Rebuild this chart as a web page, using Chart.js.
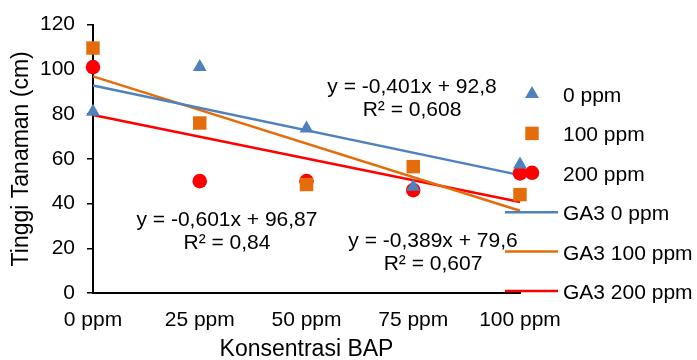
<!DOCTYPE html>
<html lang="id">
<head>
<meta charset="UTF-8">
<title>Tinggi Tanaman vs Konsentrasi BAP</title>
<script src="https://cdn.jsdelivr.net/npm/chart.js"></script>
<style>
  html, body { margin: 0; padding: 0; background: #fff; }
  canvas { display: block; }
</style>
</head>
<body>
<canvas id="growthChart" width="697" height="360"></canvas>
<script>
// data
const bapLevels   = [0, 25, 50, 75, 100];
const bapLabels   = ['0 ppm', '25 ppm', '50 ppm', '75 ppm', '100 ppm'];
const heightGA0   = [81, 101, 73.5, 47.5, 57.5];
const heightGA100 = [109.5, 76, 48.5, 56.5, 44];
const heightGA200 = [101, 50, 50, 46, 53.5];

// linear trendlines (Excel), endpoints at x = 0 and x = 100
const trendX      = [0, 100];
const trendGA0    = [92.8, 52.7];
const trendGA100  = [96.87, 36.77];
const trendGA200  = [79.6, 40.7];

const equations = [
    ['y = -0,401x + 92,8', 'R\u00b2 = 0,608'],
    ['y = -0,601x + 96,87', 'R\u00b2 = 0,84'],
    ['y = -0,389x + 79,6', 'R\u00b2 = 0,607']
];

const BLUE = '#4F81BD';
const ORANGE = '#E46C0A';
const RED = '#FF0000';
const FONT = '"Liberation Sans", Arial, sans-serif';

const toPoints = (xs, ys) => xs.map((x, i) => ({ x: x, y: ys[i] }));

function markerSet(label, ys, color, style, radius) {
    return {
        label: label,
        data: toPoints(bapLevels, ys),
        pointStyle: style,
        pointRadius: radius,
        backgroundColor: color,
        borderColor: color,
        borderWidth: 0,
        showLine: false,
        clip: false
    };
}

function trendSet(label, ys, color) {
    return {
        label: label,
        data: toPoints(trendX, ys),
        borderColor: color,
        backgroundColor: color,
        borderWidth: 2.5,
        pointRadius: 0,
        showLine: true,
        fill: false,
        clip: false
    };
}

// equation boxes + right-hand legend drawn like the Excel original
const excelExtras = {
    id: 'excelExtras',
    afterDraw(chart) {
        const ctx = chart.ctx;
        ctx.save();
        ctx.fillStyle = '#000';
        ctx.font = '21px ' + FONT;
        ctx.textAlign = 'center';
        ctx.textBaseline = 'alphabetic';
        const eqPos = [[412, 93], [227, 226], [433, 247]];
        equations.forEach((lines, i) => {
            ctx.fillText(lines[0], eqPos[i][0], eqPos[i][1]);
            ctx.fillText(lines[1], eqPos[i][0], eqPos[i][1] + 23);
        });

        // legend
        ctx.textAlign = 'left';
        chart.data.datasets.forEach((ds, i) => {
            const base = 102 + i * 39.4;
            const cy = base - 8;
            const cx = 532;
            ctx.fillStyle = ds.borderColor;
            ctx.strokeStyle = ds.borderColor;
            if (ds.showLine) {
                ctx.lineWidth = 2.5;
                ctx.beginPath();
                ctx.moveTo(505, cy);
                ctx.lineTo(558, cy);
                ctx.stroke();
            } else if (ds.pointStyle === 'triangle') {
                const r = ds.pointRadius;
                ctx.beginPath();
                ctx.moveTo(cx, cy - r);
                ctx.lineTo(cx + r * 0.866, cy + r / 2);
                ctx.lineTo(cx - r * 0.866, cy + r / 2);
                ctx.closePath();
                ctx.fill();
            } else if (ds.pointStyle === 'rect') {
                const s = ds.pointRadius * Math.SQRT1_2;
                ctx.fillRect(cx - s, cy - s, 2 * s, 2 * s);
            } else {
                ctx.beginPath();
                ctx.arc(cx, cy, ds.pointRadius, 0, Math.PI * 2);
                ctx.fill();
            }
            ctx.fillStyle = '#000';
            ctx.fillText(ds.label, 563, base);
        });
        ctx.restore();
    }
};

new Chart(document.getElementById('growthChart'), {
    type: 'scatter',
    data: {
        datasets: [
            markerSet('0 ppm', heightGA0, BLUE, 'triangle', 8),
            markerSet('100 ppm', heightGA100, ORANGE, 'rect', 9.5),
            markerSet('200 ppm', heightGA200, RED, 'circle', 7.3),
            trendSet('GA3 0 ppm', trendGA0, BLUE),
            trendSet('GA3 100 ppm', trendGA100, ORANGE),
            trendSet('GA3 200 ppm', trendGA200, RED)
        ]
    },
    options: {
        responsive: false,
        animation: false,
        layout: { padding: { top: 22, right: 177, bottom: 0, left: 0 } },
        plugins: {
            legend: { display: false },
            tooltip: { enabled: false }
        },
        scales: {
            x: {
                type: 'linear',
                position: 'bottom',
                min: 0,
                max: 100,
                afterFit: (s) => { s.height = 67; },
                ticks: {
                    stepSize: 25,
                    padding: 15,
                    color: '#000',
                    font: { family: FONT, size: 21 },
                    callback: (v) => bapLabels[bapLevels.indexOf(v)] ?? ''
                },
                grid: { drawOnChartArea: false, drawTicks: false },
                border: { display: true, color: '#000', width: 2 },
                title: {
                    display: true,
                    text: 'Konsentrasi BAP',
                    color: '#000',
                    font: { family: FONT, size: 23, lineHeight: 0.87 },
                    padding: { top: 0, bottom: 0 }
                }
            },
            y: {
                min: 0,
                max: 120,
                afterFit: (s) => { s.width = 93; },
                ticks: {
                    stepSize: 20,
                    padding: 12,
                    color: '#000',
                    font: { family: FONT, size: 21 }
                },
                grid: { drawOnChartArea: false, drawTicks: true, tickLength: 6, color: '#000', lineWidth: 1.5 },
                border: { display: true, color: '#000', width: 2 },
                title: {
                    display: true,
                    text: 'Tinggi Tanaman (cm)',
                    color: '#000',
                    font: { family: FONT, size: 23 },
                    padding: { top: 8, bottom: 0 }
                }
            }
        }
    },
    plugins: [excelExtras]
});
</script>
</body>
</html>
